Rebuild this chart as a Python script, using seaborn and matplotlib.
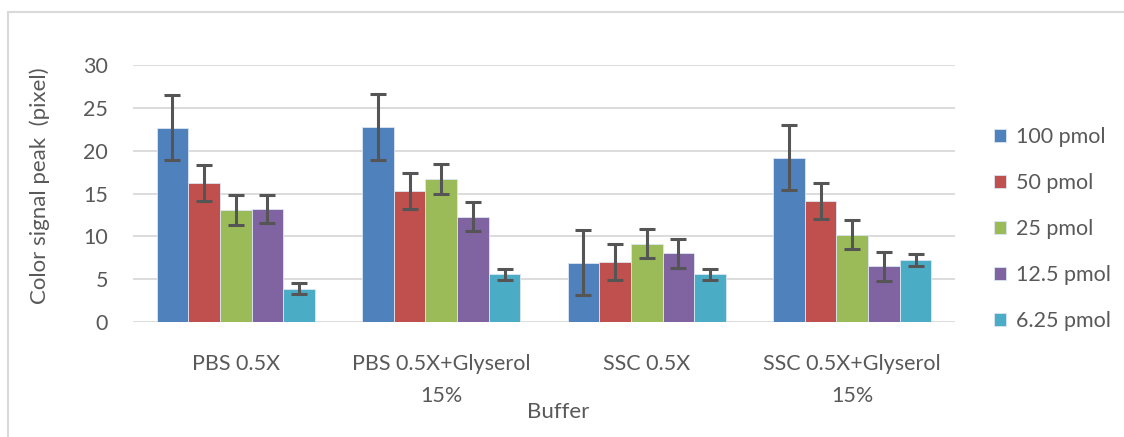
import pandas as pd
import matplotlib
matplotlib.use("Agg")
import matplotlib.pyplot as plt
import seaborn as sns
from matplotlib.lines import Line2D

buffers = ["PBS 0.5X", "PBS 0.5X+Glyserol\n15%", "SSC 0.5X", "SSC 0.5X+Glyserol\n15%"]
amounts = ["100 pmol", "50 pmol", "25 pmol", "12.5 pmol", "6.25 pmol"]

# one list per amount, values in buffer order
peak_100 = [22.7, 22.8, 6.9, 19.2]
peak_50 = [16.2, 15.3, 7.05, 14.1]
peak_25 = [13.05, 16.65, 9.15, 10.2]
peak_12_5 = [13.2, 12.3, 8.0, 6.5]
peak_6_25 = [3.9, 5.55, 5.55, 7.2]

err_100 = [3.8, 3.85, 3.8, 3.75]
err_50 = [2.1, 2.1, 2.1, 2.1]
err_25 = [1.75, 1.75, 1.73, 1.7]
err_12_5 = [1.65, 1.7, 1.7, 1.7]
err_6_25 = [0.68, 0.66, 0.66, 0.68]

colors = ["#4F81BD", "#C0504D", "#9BBB59", "#8064A2", "#4BACC6"]
text_col = "#595959"

peaks = [peak_100, peak_50, peak_25, peak_12_5, peak_6_25]
errs = [err_100, err_50, err_25, err_12_5, err_6_25]

rows = []
for amt, vals in zip(amounts, peaks):
    for buf, v in zip(buffers, vals):
        rows.append({"Buffer": buf, "Amount": amt, "Peak": v})
df = pd.DataFrame(rows)

sns.set_theme(style="white")
plt.rcParams["font.family"] = ["Lato", "DejaVu Sans"]

fig = plt.figure(figsize=(11.24, 4.37), dpi=100)
ax = fig.add_axes([133 / 1124, 1 - 322 / 437, 822 / 1124, 257 / 437])

sns.barplot(data=df, x="Buffer", y="Peak", hue="Amount", order=buffers,
            hue_order=amounts, palette=colors, width=0.77, errorbar=None,
            saturation=1, linewidth=0.6, edgecolor="#DCE6F2", ax=ax, zorder=3)

# error bars on top of each bar
for cont, e in zip(ax.containers, errs):
    for bar, err in zip(cont, e):
        cx = bar.get_x() + bar.get_width() / 2
        ax.errorbar(cx, bar.get_height(), yerr=err, color="#555555",
                    elinewidth=2.2, capsize=5.5, capthick=2.2, zorder=4)

ax.set_ylim(0, 30)
ax.set_xlim(-0.5, 3.5)
ax.set_yticks([0, 5, 10, 15, 20, 25, 30])
ax.yaxis.grid(True, color="#D9D9D9", linewidth=1.3, zorder=0)
ax.set_axisbelow(True)
for s in ax.spines.values():
    s.set_visible(False)

ax.tick_params(axis="both", length=0, labelsize=15.5, labelcolor=text_col)
ax.tick_params(axis="y", pad=18)
ax.tick_params(axis="x", pad=23)
for lbl in ax.get_xticklabels():
    lbl.set_linespacing(1.75)

ax.set_xlabel("Buffer", fontsize=16, color=text_col)
ax.xaxis.set_label_coords((558 - 133) / 822, -0.31)
ax.set_ylabel("Color signal peak  (pixel)", fontsize=16, color=text_col)
ax.yaxis.set_label_coords((50 - 133) / 822, 0.53)

handles, labels = ax.get_legend_handles_labels()
ax.legend(handles, labels, loc="center left",
          bbox_to_anchor=(975 / 1124, 1 - 229 / 437),
          bbox_transform=fig.transFigure, frameon=False, fontsize=15.5,
          labelcolor=text_col, labelspacing=1.2, handlelength=0.55,
          handleheight=0.55, handletextpad=0.45)

# chart frame (top and left edge)
fig.add_artist(Line2D([8 / 1124, 1], [1 - 12 / 437, 1 - 12 / 437],
                      transform=fig.transFigure, color="#D9D9D9", linewidth=1.5))
fig.add_artist(Line2D([8 / 1124, 8 / 1124], [0, 1 - 12 / 437],
                      transform=fig.transFigure, color="#D9D9D9", linewidth=1.5))

fig.savefig("out.png", dpi=100, facecolor="white")
